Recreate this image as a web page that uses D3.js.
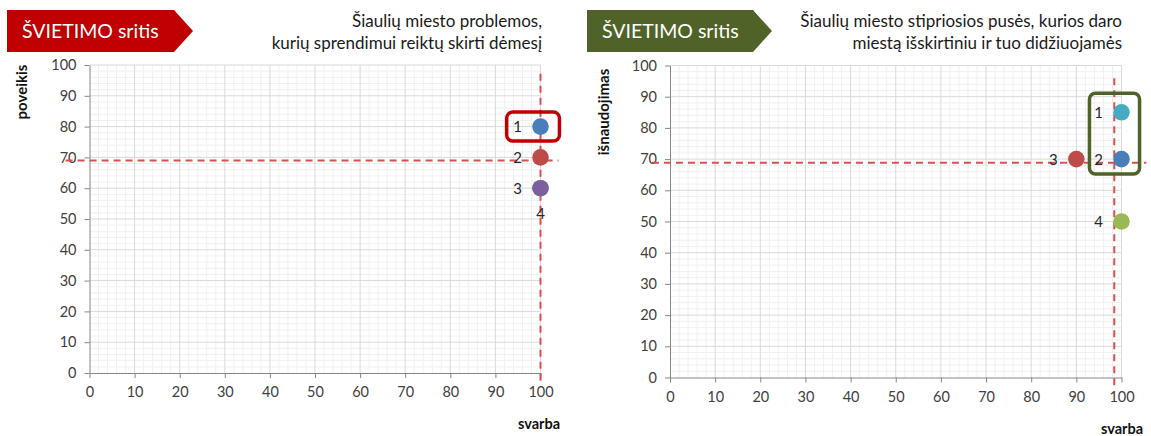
<!DOCTYPE html>
<html><head><meta charset="utf-8">
<script src="https://cdn.jsdelivr.net/npm/d3@7"></script>
<style>
html,body{margin:0;padding:0;background:#fff;}
svg{display:block;font-family:Lato,"Open Sans",sans-serif;}
</style></head>
<body>
<svg id="c" width="1151" height="436"></svg>
<script>
// ---------- DATA ----------
const xTickValues = [0,10,20,30,40,50,60,70,80,90,100];
const yTickValues = [0,10,20,30,40,50,60,70,80,90,100];

const leftTitle = "ŠVIETIMO sritis";
const leftSubtitle = ["Šiaulių miesto problemos,", "kurių sprendimui reiktų skirti dėmesį"];
const leftYTitle = "poveikis";
const leftXTitle = "svarba";
const leftLabels = ["4","3","2","1"];
const leftX = [100,100,100,100];
const leftY = [60,60,70,80];
const leftRefX = 100;
const leftRefY = 69;
const leftBoxX = [92.5,104.2];
const leftBoxY = [75.3,84.7];

const rightTitle = "ŠVIETIMO sritis";
const rightSubtitle = ["Šiaulių miesto stipriosios pusės, kurios daro", "miestą išskirtiniu ir tuo didžiuojamės"];
const rightYTitle = "išnaudojimas";
const rightXTitle = "svarba";
const rightLabels = ["1","2","3","4"];
const rightX = [100,100,90,100];
const rightY = [85,70,70,50];
const rightRefX = 98.4;
const rightRefY = 68.8;
const rightBoxX = [92.9,104];
const rightBoxY = [65.2,91.1];

// ---------- STYLE ----------
const leftColors = {"1":"#4A7EBB","2":"#BE4B48","3":"#7D5FA0","4":"#98B954"};
const rightColors = {"1":"#46AAC5","2":"#4A7EBB","3":"#BE4B48","4":"#98B954"};
const leftLabelPos = {"1":"left","2":"left","3":"left","4":"below"};
const rightLabelPos = {"1":"left","2":"left","3":"left","4":"left"};

const svg = d3.select("#c");

function panel(cfg){
  const x = d3.scaleLinear().domain([0,100]).range(cfg.xr);
  const y = d3.scaleLinear().domain([0,100]).range(cfg.yr);
  const g = svg.append("g");

  // banner
  const b = cfg.banner;
  g.append("path")
    .attr("d", `M${b.x},${b.y} H${b.x+b.w} L${b.x+b.w+b.tip},${b.y+b.h/2} L${b.x+b.w},${b.y+b.h} H${b.x} Z`)
    .attr("fill", cfg.bannerColor);
  g.append("text").attr("x", b.x+15).attr("y", b.y+b.h/2+7)
    .attr("fill","#fff").attr("font-size",19.5).text(cfg.title);

  // subtitle
  cfg.subtitle.forEach((s,i)=>{
    g.append("text").attr("x", cfg.subX).attr("y", 27+i*22)
      .attr("text-anchor","end").attr("font-size",17).attr("fill","#1a1a1a").text(s);
  });

  // minor grid
  const minor = d3.range(0,101,2);
  g.append("g").selectAll("line.mx").data(minor.filter(v=>v%10!==0)).join("line")
    .attr("x1",d=>x(d)).attr("x2",d=>x(d)).attr("y1",y(0)).attr("y2",y(100))
    .attr("stroke","#f0f0f0").attr("stroke-width",1);
  g.append("g").selectAll("line.my").data(minor.filter(v=>v%10!==0)).join("line")
    .attr("y1",d=>y(d)).attr("y2",d=>y(d)).attr("x1",x(0)).attr("x2",x(100))
    .attr("stroke","#f0f0f0").attr("stroke-width",1);
  // major grid
  g.append("g").selectAll("line").data(xTickValues.slice(1)).join("line")
    .attr("x1",d=>x(d)).attr("x2",d=>x(d)).attr("y1",y(0)).attr("y2",y(100))
    .attr("stroke","#d9d9d9").attr("stroke-width",1);
  g.append("g").selectAll("line").data(yTickValues.slice(1)).join("line")
    .attr("y1",d=>y(d)).attr("y2",d=>y(d)).attr("x1",x(0)).attr("x2",x(100))
    .attr("stroke","#d9d9d9").attr("stroke-width",1);

  // axes
  const ax = g.append("g").attr("transform",`translate(0,${y(0)})`)
    .call(d3.axisBottom(x).tickValues(xTickValues).tickSize(5).tickSizeOuter(0).tickPadding(9));
  const ay = g.append("g").attr("transform",`translate(${x(0)},0)`)
    .call(d3.axisLeft(y).tickValues(yTickValues).tickSize(5).tickSizeOuter(0).tickPadding(8));
  [ax,ay].forEach(a=>{
    a.select(".domain").attr("stroke","#868686");
    a.selectAll(".tick line").attr("stroke","#868686");
    a.selectAll(".tick text").attr("font-size",14.5).attr("fill","#404040")
      .attr("font-family","Lato,'Open Sans',sans-serif");
  });

  // axis titles
  g.append("text").attr("transform",`translate(${cfg.yTitlePos[0]},${cfg.yTitlePos[1]}) rotate(-90)`)
    .attr("text-anchor","middle").attr("font-weight","bold").attr("font-size",15).attr("fill","#111")
    .text(cfg.yTitle);
  g.append("text").attr("x",cfg.xTitlePos[0]).attr("y",cfg.xTitlePos[1])
    .attr("text-anchor","middle").attr("font-weight","bold").attr("font-size",14.5).attr("fill","#111")
    .text(cfg.xTitle);

  // reference lines
  g.append("line").attr("x1",x(cfg.refX)).attr("x2",x(cfg.refX))
    .attr("y1",y(cfg.vExt[0])).attr("y2",y(cfg.vExt[1]))
    .attr("stroke","#D9504D").attr("stroke-width",2).attr("stroke-dasharray","7,5");
  g.append("line").attr("y1",y(cfg.refY)).attr("y2",y(cfg.refY))
    .attr("x1",x(cfg.hExt[0])).attr("x2",x(cfg.hExt[1]))
    .attr("stroke","#D9504D").attr("stroke-width",2).attr("stroke-dasharray","7,5");

  // box
  g.append("rect").attr("x",x(cfg.boxX[0])).attr("y",y(cfg.boxY[1]))
    .attr("width",x(cfg.boxX[1])-x(cfg.boxX[0])).attr("height",y(cfg.boxY[0])-y(cfg.boxY[1]))
    .attr("rx",6).attr("fill","none").attr("stroke",cfg.boxColor).attr("stroke-width",3.5);

  // points
  const pts = cfg.labels.map((l,i)=>({l, x:cfg.xs[i], y:cfg.ys[i]}));
  g.append("g").selectAll("circle").data(pts).join("circle")
    .attr("cx",d=>x(d.x)).attr("cy",d=>y(d.y)).attr("r",8.3)
    .attr("fill",d=>cfg.colors[d.l]);
  g.append("g").selectAll("text").data(pts).join("text")
    .attr("x",d=>cfg.labelPos[d.l]==="below" ? x(d.x) : x(d.x)-23)
    .attr("y",d=>cfg.labelPos[d.l]==="below" ? y(d.y)+31 : y(d.y)+5.5)
    .attr("text-anchor","middle").attr("font-size",15).attr("fill","#262626")
    .text(d=>d.l);
}

panel({
  xr:[89.5,540.5], yr:[373,65],
  banner:{x:7,y:10,w:167,h:42,tip:19}, bannerColor:"#C00000", title:leftTitle,
  subtitle:leftSubtitle, subX:542,
  yTitle:leftYTitle, yTitlePos:[27,92], xTitle:leftXTitle, xTitlePos:[539,429],
  refX:leftRefX, refY:leftRefY, vExt:[-2.5,97.5], hExt:[-5.3,104],
  boxX:leftBoxX, boxY:leftBoxY, boxColor:"#C00000",
  labels:leftLabels, xs:leftX, ys:leftY, colors:leftColors, labelPos:leftLabelPos
});
panel({
  xr:[670,1121.5], yr:[377.5,65.5],
  banner:{x:587,y:10,w:166,h:42,tip:19}, bannerColor:"#4F6228", title:rightTitle,
  subtitle:rightSubtitle, subX:1122,
  yTitle:rightYTitle, yTitlePos:[609,112], xTitle:rightXTitle, xTitlePos:[1122,434],
  refX:rightRefX, refY:rightRefY, vExt:[-2.5,97.5], hExt:[-4,105.5],
  boxX:rightBoxX, boxY:rightBoxY, boxColor:"#4F6228",
  labels:rightLabels, xs:rightX, ys:rightY, colors:rightColors, labelPos:rightLabelPos
});
</script>
</body></html>
